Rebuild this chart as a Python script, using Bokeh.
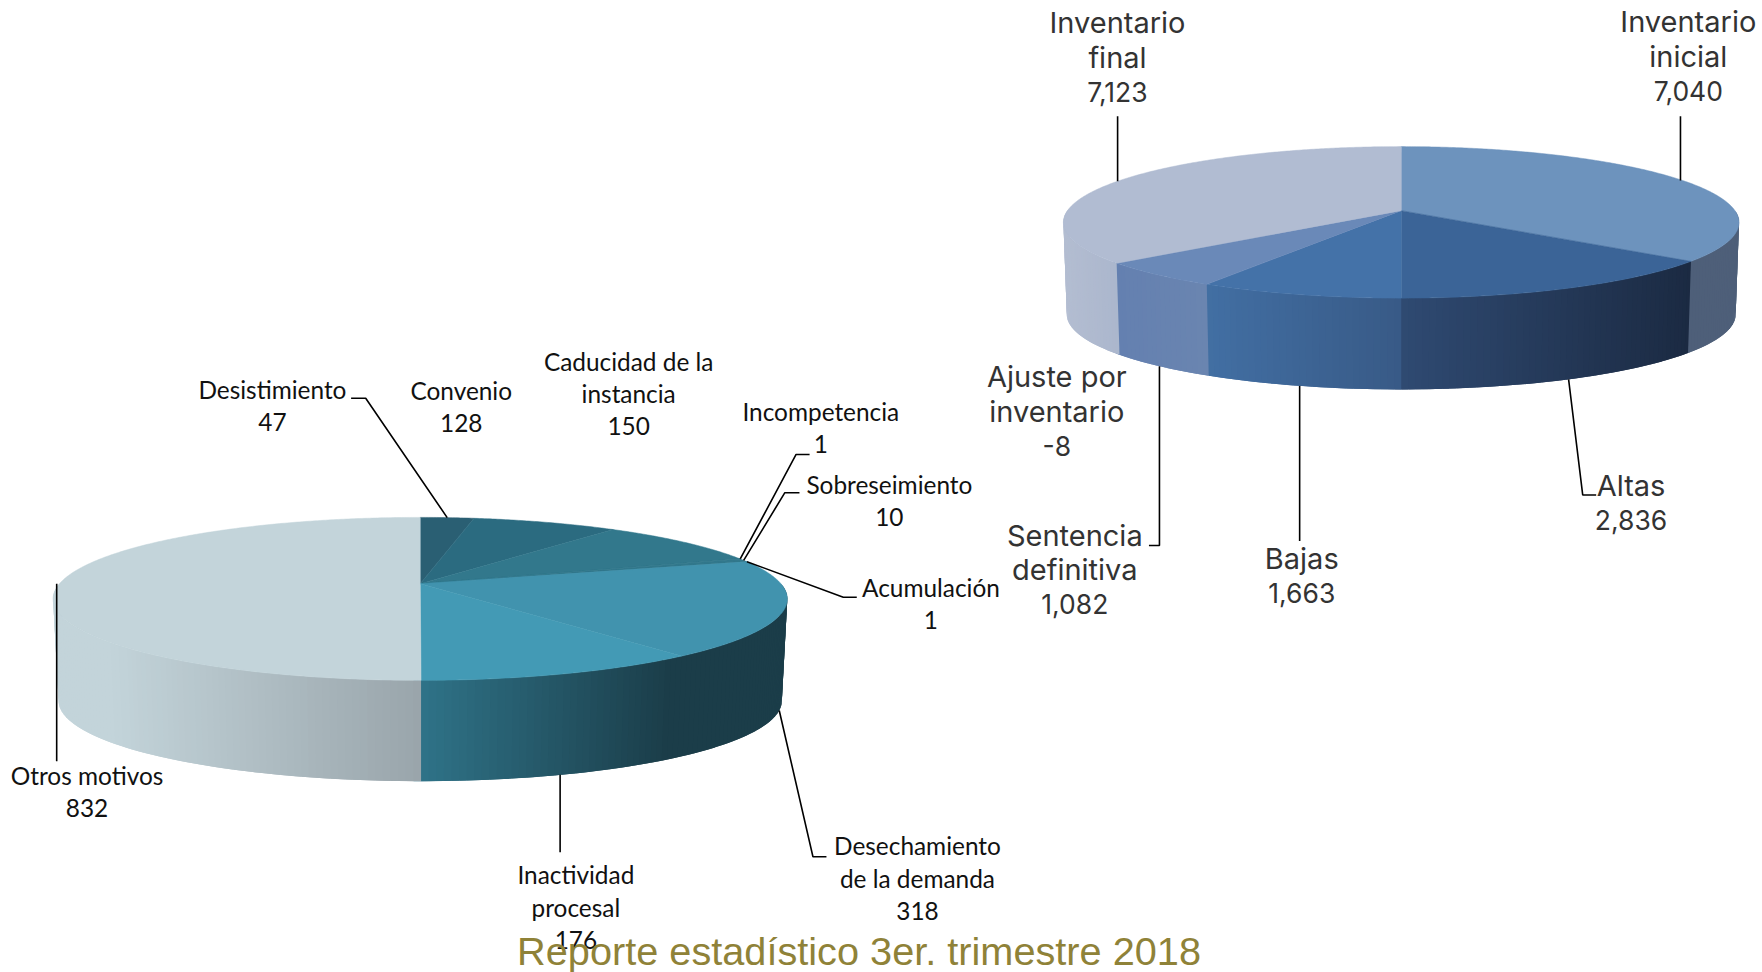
import math
from bokeh.plotting import figure
from bokeh.models import Range1d
from bokeh.core.properties import value
from bokeh.embed import file_html
from bokeh.resources import INLINE

# ---------- data ----------
left_names = ["Desistimiento", "Convenio", "Caducidad de la instancia", "Incompetencia",
              "Sobreseimiento", "Acumulación", "Desechamiento de la demanda",
              "Inactividad procesal", "Otros motivos"]
left_values = [47, 128, 150, 1, 10, 1, 318, 176, 832]
right_names = ["Inventario inicial", "Altas", "Bajas", "Sentencia definitiva",
               "Ajuste por inventario", "Inventario final"]
right_values = [7040, 2836, 1663, 1082, -8, 7123]
title_text = "Reporte estadístico 3er. trimestre 2018"

# ---------- styles ----------
left_top = ["#2a5f73", "#2b6b80", "#32788c", "#32788c", "#32788c", "#32788c", "#4193ae", "#439ab5", "#c3d4da"]
# wall gradient per slice: (x fraction, colour, x fraction, colour)
DK = "#1b3d49"
left_wall = [(0, DK, 1, DK)] * 6 + [(0, "#2f7388", 0.68, DK), (0, "#2f7388", 0.68, DK),
                                    (0, "#9aa5ab", -0.85, "#c3d4da")]
right_top = ["#6d93bd", "#3b6497", "#4472a8", "#6a89b8", "#6a89b8", "#b1bcd2"]
right_wall = [(0, "#4e5f79", 1, "#4e5f79"), (0, "#2f4a72", 0.86, "#1b2a42"), (-0.58, "#426fa3", 0, "#385a87"),
              (-0.84, "#6480b0", -0.58, "#6a85b0"), (-0.84, "#6480b0", -0.58, "#6a85b0"),
              (-1, "#b3bdd1", -0.8, "#a9b5cc")]

S = 1762 / 1568  # layout below was measured on the shrunk view
LEFT = dict(cx=373.5 * S, cy=519 * S, A=321 * S, B=70 * S, k=0.186, dy=91 * S, s=0.985)
RIGHT = dict(cx=1246.5 * S, cy=187 * S, A=297 * S, B=65.8 * S, k=0.155, dy=82 * S, s=0.99)


def project(g, deg, lower=False):
    t = math.radians(deg)
    u, v = math.sin(t), math.cos(t)
    d = 1 + g["k"] * v
    x, y = g["A"] * u / d, g["B"] * v / d
    if lower:
        return g["cx"] + g["s"] * x, g["cy"] + g["dy"] - g["s"] * y
    return g["cx"] + x, g["cy"] - y


def mix(c1, c2, f):
    f = max(0, min(1, f))
    a = [int(c1[i:i + 2], 16) for i in (1, 3, 5)]
    b = [int(c2[i:i + 2], 16) for i in (1, 3, 5)]
    return "#%02x%02x%02x" % tuple(round(p + (q - p) * f) for p, q in zip(a, b))


def spans(vals):
    total = sum(abs(v) for v in vals)
    out, acc = [], 0
    for v in vals:
        a0 = acc / total * 360
        acc += abs(v)
        out.append((a0, acc / total * 360))
    return out


def draw_pie(p, g, vals, tops, walls):
    sp = spans(vals)
    half = g["A"] / math.sqrt(1 - g["k"] ** 2)
    xs, ys, cols = [], [], []
    for (a0, a1), (f0, c0, f1, c1) in zip(sp, walls):
        n = max(1, int((a1 - a0) / 1.0))
        h = (a1 - a0) / n
        for i in range(n):
            b0 = a0 + h * i
            b1 = a0 + h * (i + 1)
            if math.cos(math.radians(b0 + h / 2)) > 0:
                continue
            b2 = b1 + 1.0  # overlap the next strip so no background shows between strips
            q = [project(g, b0), project(g, b2), project(g, b2, True), project(g, b0, True)]
            xs.append([c[0] for c in q])
            ys.append([c[1] for c in q])
            xm = (project(g, b0)[0] + project(g, b1)[0]) / 2
            frac = (xm - g["cx"]) / half
            cols.append(mix(c0, c1, (frac - f0) / (f1 - f0)))
    p.patches(xs, ys, fill_color=cols, line_color=None)
    xs, ys, cols = [], [], []
    for (a0, a1), c in zip(sp, tops):
        n = max(2, int((a1 - a0) / 0.5))
        pts = [(g["cx"], g["cy"])] + [project(g, a0 + (a1 - a0) * i / n) for i in range(n + 1)]
        xs.append([q[0] for q in pts])
        ys.append([q[1] for q in pts])
        cols.append(c)
    p.patches(xs, ys, fill_color=cols, line_color=cols, line_width=0.5)
    return sp


p = figure(width=1762, height=972, output_backend="svg", toolbar_location=None,
           x_range=Range1d(0, 1762), y_range=Range1d(972, 0),
           min_border=0, outline_line_color=None, background_fill_color="white")
p.axis.visible = False
p.grid.visible = False

sp_l = draw_pie(p, LEFT, left_values, left_top, left_wall)
sp_r = draw_pie(p, RIGHT, right_values, right_top, right_wall)


def leader(g, sp, i, lower, x0, *rest):
    mid = sum(sp[i]) / 2
    s0 = project(g, mid, lower)
    if x0 is not None:
        s0 = (x0 * S, s0[1])
    pts = [s0] + [(s0[0] if x is None else x * S, y * S) for x, y in rest]
    p.line([q[0] for q in pts], [q[1] for q in pts], line_color="black", line_width=1.6)


leader(LEFT, sp_l, 0, False, None, (325, 354), (312, 354))
leader(LEFT, sp_l, 3, False, None, (708, 404), (720, 404))
leader(LEFT, sp_l, 4, False, None, (698, 438), (711, 438))
leader(LEFT, sp_l, 5, False, None, (750, 531), (762, 531))
leader(LEFT, sp_l, 6, True, None, (723, 762), (735, 762))
leader(LEFT, sp_l, 7, True, 498, (None, 758))
leader(LEFT, sp_l, 8, False, 50, (None, 677))
leader(RIGHT, sp_r, 0, False, 1495, (None, 103))
leader(RIGHT, sp_r, 1, True, None, (1408, 440), (1420, 440))
leader(RIGHT, sp_r, 2, True, None, (None, 481))
leader(RIGHT, sp_r, 3, True, None, (None, 485), (1022, 485))
leader(RIGHT, sp_r, 5, False, None, (None, 103))

# label anchors: centre x, first-line y, and how the name wraps
left_layout = [(242, 346, 1), (410, 347, 1), (559, 321, 3), (730, 366, 1), (791, 431, 1),
               (828, 522, 1), (816, 752, 1), (512, 778, 1), (77, 690, 2)]
right_layout = [(1502, 19, 1), (1451, 432, 1), (1158, 497, 1), (956, 476, 1), (940, 335, 2), (994, 20, 1)]


def wrap(name, first_words):
    w = name.split()
    return [" ".join(w[:first_words]), " ".join(w[first_words:])] if len(w) > first_words else [name]


def labels(names, vals, layout, font, size, num_size, step, color):
    for nm, v, (x, y, fw) in zip(names, vals, layout):
        lines = wrap(nm, fw)
        ny = [(y + i * step) * S for i in range(len(lines))]
        p.text([x * S] * len(lines), ny, text=lines,
               text_font=value(font), text_font_size=size, text_align="center",
               text_baseline="middle", text_color=color)
        p.text([x * S], [(y + len(lines) * step) * S], text=[f"{v:,}"],
               text_font=value(font), text_font_size=num_size, text_align="center",
               text_baseline="middle", text_color=color)


labels(left_names, left_values, left_layout, "Lato", "24.4px", "24.4px", 29, "#111111")
labels(right_names, right_values, right_layout, "Inter", "29px", "26.5px", 30.7, "#333333")

p.text([764 * S], [846 * S], text=[title_text], text_font=value("Liberation Sans"),
       text_font_size="39.7px", text_align="center", text_baseline="middle", text_color="#8f8238")

open("out.html", "w").write(file_html(p, INLINE))
